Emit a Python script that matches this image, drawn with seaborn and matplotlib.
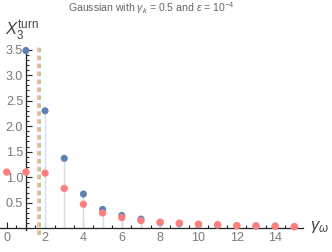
import matplotlib
matplotlib.use("Agg")

import matplotlib.pyplot as plt
import seaborn as sns
import pandas as pd
from matplotlib.ticker import MultipleLocator, FormatStrFormatter

# values
gamma_omega_red = list(range(0, 16))
x3_red = [1.10, 1.10, 1.08, 0.78, 0.47, 0.30, 0.21, 0.15, 0.12, 0.10, 0.08, 0.07, 0.05, 0.05, 0.04, 0.03]
gamma_omega_blue = list(range(1, 16))
x3_blue = [3.48, 2.30, 1.37, 0.67, 0.37, 0.25, 0.18, 0.11, 0.09, 0.07, 0.06, 0.05, 0.04, 0.04, 0.03]
turn_points = [1.64, 1.75]

BLUE = "#5E81B5"
RED = "#FF7F7F"
STEM = "#D4DDEC"
GREY = "#7A7A7A"

sns.set_style("white")
plt.rcParams["font.family"] = ["Liberation Sans", "DejaVu Sans"]
plt.rcParams["mathtext.fontset"] = "custom"
plt.rcParams["mathtext.rm"] = "Liberation Sans"
plt.rcParams["mathtext.it"] = "Liberation Sans:italic"

fig = plt.figure(figsize=(3.32, 2.52), dpi=100)
ax = fig.add_axes([0, 0.0861, 0.9127, 0.7274])

blue = pd.DataFrame({"g": gamma_omega_blue, "x3": x3_blue})
red = pd.DataFrame({"g": gamma_omega_red, "x3": x3_red})

ax.vlines(blue["g"], 0, blue["x3"], color=STEM, lw=1.0, zorder=1)
sns.scatterplot(data=blue, x="g", y="x3", color=BLUE, s=26, edgecolor="none", ax=ax, zorder=3, clip_on=False)
sns.scatterplot(data=red, x="g", y="x3", color=RED, s=28, edgecolor="none", ax=ax, zorder=4, clip_on=False)

for xv, col in zip(turn_points, ["#FF9A9A", "#9CC05A"]):
    ax.plot([xv, xv], [-0.14, 3.58], color=col, lw=1.1, dashes=(3, 2.2), zorder=2, clip_on=False)

ax.set_xlim(-0.35, 15.45)
ax.set_ylim(-0.04, 3.55)

for s in ["top", "right"]:
    ax.spines[s].set_visible(False)
ax.spines["left"].set_position(("data", 1))
ax.spines["bottom"].set_position(("data", 0))
for s in ["left", "bottom"]:
    ax.spines[s].set_color("#222222")
    ax.spines[s].set_linewidth(0.9)

ax.xaxis.set_major_locator(MultipleLocator(2))
ax.xaxis.set_minor_locator(MultipleLocator(0.5))
ax.yaxis.set_major_locator(MultipleLocator(0.5))
ax.yaxis.set_minor_locator(MultipleLocator(0.1))
ax.yaxis.set_major_formatter(FormatStrFormatter("%.1f"))
ax.set_yticks([0.5, 1.0, 1.5, 2.0, 2.5, 3.0, 3.5])
ax.tick_params(which="both", direction="in", color="#222222", width=0.8,
               left=True, bottom=True, labelsize=9, labelcolor=GREY)
ax.tick_params(which="major", length=4)
ax.tick_params(which="minor", length=2.2)
ax.tick_params(axis="x", pad=3)
ax.tick_params(axis="y", pad=2)
ax.set_xlabel("")
ax.set_ylabel("")

fig.text(0.455, 0.968, r"Gaussian with $\gamma_k$ = 0.5 and $\epsilon$ = 10$^{-4}$",
         ha="center", va="center", fontsize=7.6, color="#666666")
fig.text(0.015, 0.86, r"$X_3^{\mathrm{turn}}$", ha="left", va="baseline", fontsize=12, color="#444444")
fig.text(0.935, 0.10, r"$\gamma_\omega$", ha="left", va="center", fontsize=12, color="#444444")

fig.savefig("out.png", dpi=100)
